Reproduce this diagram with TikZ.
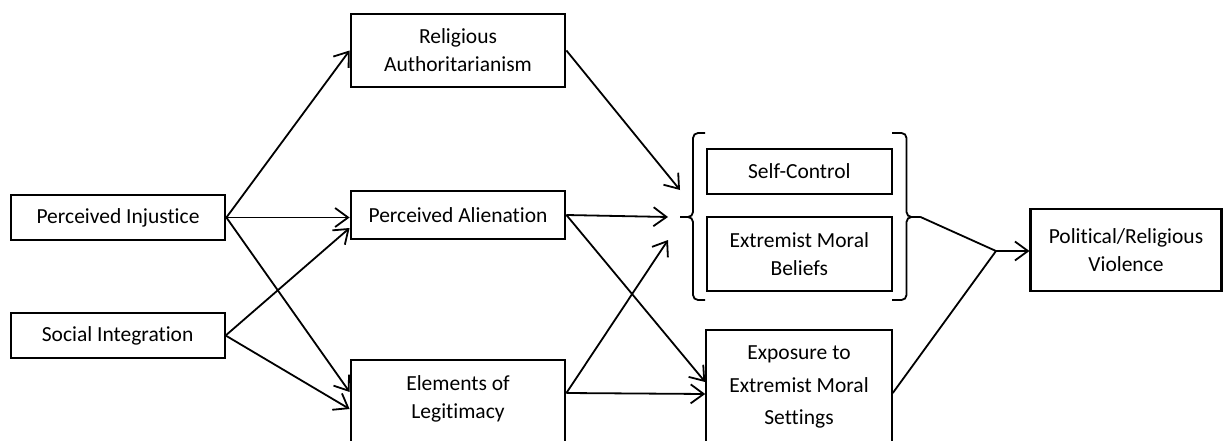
\documentclass[tikz,border=0pt]{standalone}
\usepackage{fontspec}
\setmainfont{Carlito}[Ligatures=CommonOff]
\usetikzlibrary{calc}
\usetikzlibrary{positioning}
\usetikzlibrary{arrows.meta}
\tikzset{box/.style={draw, line width=2.1pt, align=center, inner sep=0pt, font=\fontsize{21.5}{28}\selectfont}}
\tikzset{link/.style={line width=1.8pt, -{Straight Barb[length=13pt,width=19pt,line width=1.8pt]}}}
\tikzset{bracket/.style={line width=1.8pt, rounded corners=5pt}}

\begin{document}
\begin{tikzpicture}[x=1pt,y=-1pt]
  \useasboundingbox (0,0) rectangle (1223,441);

  % left column
  \node [box, minimum width=214.7, minimum height=45] (inj) at (118,217.5) {Perceived Injustice};
  \node [box, minimum width=214, minimum height=45] (soc) at (117.6,335.5) {Social Integration};

  % middle column
  \node [box, minimum width=214.7, minimum height=73] (rel) at (458,50.5) {Religious\\Authoritarianism};
  \node [box, minimum width=214.7, minimum height=48] (ali) at (458,215) {Perceived Alienation};
  \node [box, minimum width=214.7, anchor=north, inner ysep=16pt, text depth=80pt] (leg) at (458,359) {Elements of\\Legitimacy};

  % right column
  \node [box, minimum width=185.5, minimum height=45] (self) at (799.3,171.5) {Self-Control};
  \node [box, minimum width=185.5, minimum height=74] (mor) at (799.3,254) {Extremist Moral\\Beliefs};
  \node [box, minimum width=185.5, anchor=north, inner ysep=16pt, text depth=80pt,
         font=\fontsize{21.5}{32.5}\selectfont] (exp) at (799,329) {Exposure to\\Extremist Moral\\Settings};
  \node [box, minimum width=191, minimum height=82] (pol) at (1126,250) {Political/Religious\\Violence};

  \coordinate (lbrace) at (680,217);
  \coordinate (rbrace) at (920.5,217);
  \coordinate (join) at (996,251);
  \coordinate (toRA) at (680,190);
  \coordinate (toPA) at (668,217);
  \coordinate (toEL) at (668,240);

  % brackets round the two moral boxes
  \draw [bracket] (705,133) -- (693,133) -- (693,217) -- (lbrace);
  \draw [bracket] (705,300) -- (693,300) -- (693,217) -- (lbrace);
  \draw [bracket] (892,133) -- (906.5,133) -- (906.5,217) -- (rbrace);
  \draw [bracket] (892,300) -- (906.5,300) -- (906.5,217) -- (rbrace);

  \draw [link] (inj.east) -- (rel.west);
  \draw [link] (inj.east) -- (inj.east -| ali.west);
  \draw [link] (inj.east) -- ($(leg.north west)+(0,33)$);
  \draw [link] (soc.east) -- ($(ali.west)+(0,13)$);
  \draw [link] (soc.east) -- ($(leg.north west)+(0,50)$);

  \draw [link] (rel.east) -- (toRA);
  \draw [link] (ali.east) -- (toPA);
  \draw [link] (ali.east) -- ($(exp.north west)+(0,53)$);
  \draw [link] ($(leg.north east)+(0,34)$) -- (toEL);
  \draw [link] ($(leg.north east)+(0,34)$) -- ($(exp.north west)+(0,65)$);

  \draw [line width=1.8pt] (rbrace) -- (join) -- ($(exp.north east)+(0,64)$);
  \draw [link] (join) -- (join -| pol.west);
\end{tikzpicture}
\end{document}
